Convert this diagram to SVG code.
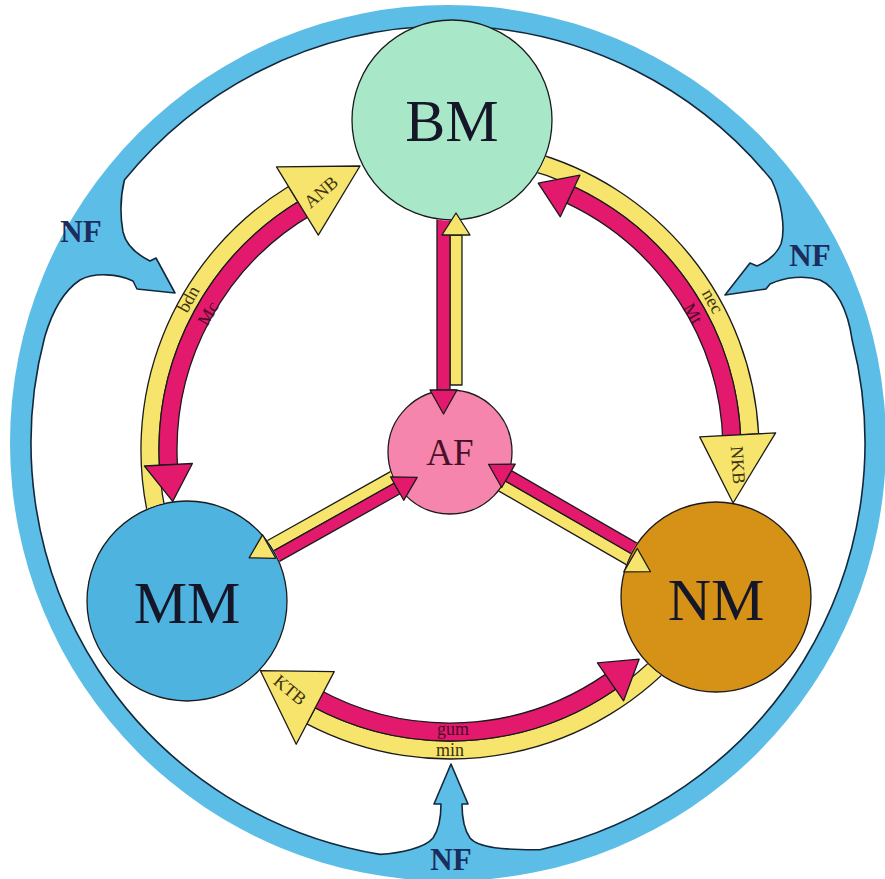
<svg xmlns="http://www.w3.org/2000/svg" width="885" height="879" viewBox="0 0 885 879">
  <style>
    .ln{stroke:#1b1b1b;stroke-width:1.3;stroke-linejoin:round}
    .y{fill:#f6e46c}
    .p{fill:#e3196d}
    .big{font-family:"Liberation Serif","Times New Roman",serif;font-size:60px;fill:#161629;text-anchor:middle}
    .nf{font-family:"Liberation Serif","Times New Roman",serif;font-weight:bold;font-size:31px;fill:#1a2d5c;text-anchor:middle}
    .sm{font-family:"Liberation Serif","Times New Roman",serif;font-size:18px;text-anchor:middle}
    .sy{fill:#3b3210}
    .sp{fill:#4a0c2a}
  </style>
  <defs>
    <!-- hides connector tails where they run under a node -->
    <mask id="outsideNodes" maskUnits="userSpaceOnUse" x="0" y="0" width="885" height="879">
      <rect width="885" height="879" fill="#fff"/>
      <circle cx="452" cy="120" r="100.7" fill="#000"/>
      <circle cx="187" cy="601" r="100.7" fill="#000"/>
      <circle cx="716" cy="597" r="95.7" fill="#000"/>
      <circle cx="450" cy="452" r="62.7" fill="#000"/>
    </mask>
  </defs>

  <rect width="885" height="879" fill="#fff"/>

  <!-- outer NF ring with its three inward arrows -->
  <g id="nf-ring">
    <circle cx="448" cy="443" r="438" fill="#5cbde6"/>
    <path fill="#fff" stroke="#14283c" stroke-width="1.6" stroke-linejoin="round"
      d="M124.4,180 A417,417 0 0 1 771.6,180
         C781,200 786,228 781,244 C776,256 766,262 757,266 L750,263 L725,295 L766,289 L770,284
         C785,277 805,275 820,280 C836,287 848,310 852.1,340
         A417,417 0 0 1 540,849.7
         C505,850 478,848 470,838 C463,828 462,815 462,804 L468,804 L451,764 L434,804 L441,804
         C441,815 440,828 433,838 C425,848 400,853 380,854.4
         A417,417 0 0 1 44.7,337
         C52,312 62,292 80,280 C95,272 118,274 133,281 L137,289 L175,293 L156,258 L150,261
         C138,255 126,245 123,232 C120,215 120,198 124.4,180 Z"/>
    <text class="nf" x="81" y="242">NF</text>
    <text class="nf" x="810" y="266">NF</text>
    <text class="nf" x="451" y="870" font-size="28">NF</text>
  </g>

  <!-- nodes -->
  <g id="node-BM">
    <circle cx="452" cy="120" r="100" fill="#a8e8c8" class="ln"/>
    <text class="big" x="452" y="141">BM</text>
  </g>
  <g id="node-MM">
    <circle cx="187" cy="601" r="100" fill="#4fb3e0" class="ln"/>
    <text class="big" x="187" y="623">MM</text>
  </g>
  <g id="node-NM">
    <circle cx="716" cy="597" r="95" fill="#d69216" class="ln"/>
    <text class="big" x="716" y="620">NM</text>
  </g>
  <g id="node-AF">
    <circle cx="450" cy="452" r="62" fill="#f585ac" class="ln"/>
    <text x="450" y="465" font-family="Liberation Serif, Times New Roman, serif" font-size="37" fill="#4a1028" text-anchor="middle">AF</text>
  </g>

  <!-- connectors: paired yellow / pink arrows -->
  <g id="connectors">
    <g mask="url(#outsideNodes)">
      <!-- MM -> BM (yellow) and BM -> MM (pink) -->
      <path class="y ln" d="M151.5,530 A309,309 0 0 1 288.5,186.5 L297.9,201.9 A291,291 0 0 0 168.9,525.3 Z"/>
      <path class="p ln" d="M159.4,465.2 A291,291 0 0 1 304.5,198 L313.5,213.6 A273,273 0 0 0 177.4,464.3 Z"/>
      <!-- BM -> NM (yellow) and NM -> BM (pink) -->
      <path class="y ln" d="M530,151.5 A309,309 0 0 1 758.6,433.8 L740.6,434.8 A291,291 0 0 0 525.3,168.9 Z"/>
      <path class="p ln" d="M574.4,186.9 A291,291 0 0 1 740.9,442.4 L722.9,442.9 A273,273 0 0 0 566.7,203.2 Z"/>
      <!-- NM -> MM (yellow) and MM -> NM (pink) -->
      <path class="y ln" d="M686.7,648.6 A309,309 0 0 1 306.8,723.8 L315.2,707.9 A291,291 0 0 0 672.9,637.1 Z"/>
      <path class="p ln" d="M615.7,689.2 A291,291 0 0 1 308.9,704.5 L317.6,688.8 A273,273 0 0 0 605.4,674.4 Z"/>
      <!-- AF <-> BM -->
      <rect class="y ln" x="450" y="235" width="12" height="150"/>
      <rect class="p ln" x="437" y="205" width="13" height="185"/>
      <!-- AF <-> MM -->
      <path class="y ln" d="M396.2,468.4 L266.2,541.3 L272.1,551.8 L402,478.9 Z"/>
      <path class="p ln" d="M394.2,483.3 L262.5,557.1 L268.3,567.6 L400.1,493.8 Z"/>
      <!-- AF <-> NM -->
      <path class="y ln" d="M491.6,486.9 L627.6,565.4 L633.6,555 L497.6,476.5 Z"/>
      <path class="p ln" d="M505.4,481 L640.5,559 L646.5,548.6 L511.4,470.6 Z"/>
    </g>
    <!-- arrowheads -->
    <path class="p ln" d="M144.4,466 L192.4,463.5 L172.7,501.4 Z"/>
    <path class="y ln" d="M276.5,166.9 L318.3,235.1 L360,166 Z"/>
    <path class="p ln" d="M579.9,175.2 L560.3,216.8 L538.2,183.2 Z"/>
    <path class="y ln" d="M775.6,432.9 L699.7,436.9 L733.1,503 Z"/>
    <path class="p ln" d="M623.6,700.8 L597.4,662.9 L639.1,659.2 Z"/>
    <path class="y ln" d="M296.2,744.2 L334.2,671.6 L260.4,670.7 Z"/>
    <path class="y ln" d="M442,235 L470,235 L456,213 Z"/>
    <path class="p ln" d="M430,390 L457,390 L443.5,414 Z"/>
    <path class="y ln" d="M262.5,534.8 L275.7,558.3 L249.1,557.8 Z"/>
    <path class="p ln" d="M390.5,476.8 L403.7,500.3 L417.2,477.3 Z"/>
    <path class="y ln" d="M623.8,571.9 L637.3,548.5 L650.5,571.7 Z"/>
    <path class="p ln" d="M501.7,487.5 L515.2,464.1 L488.5,464.3 Z"/>
    <!-- labels -->
    <text class="sm sy" transform="translate(321,192) rotate(-41)" dy="6">ANB</text>
    <text class="sm sy" transform="translate(190,300) rotate(-61)" dy="4">bdn</text>
    <text class="sm sp" transform="translate(209,314) rotate(-60)" dy="5">Mc</text>
    <text class="sm sy" transform="translate(711,302) rotate(61)" dy="4">nec</text>
    <text class="sm sp" transform="translate(692,314) rotate(60)" dy="5">Mt</text>
    <text class="sm sy" transform="translate(738,465) rotate(86)" dy="6">NKB</text>
    <text class="sm sy" transform="translate(290,690) rotate(40)" dy="6">KTB</text>
    <text class="sm sp" x="453" y="735">gum</text>
    <text class="sm sy" x="450" y="756">min</text>
  </g>
</svg>
